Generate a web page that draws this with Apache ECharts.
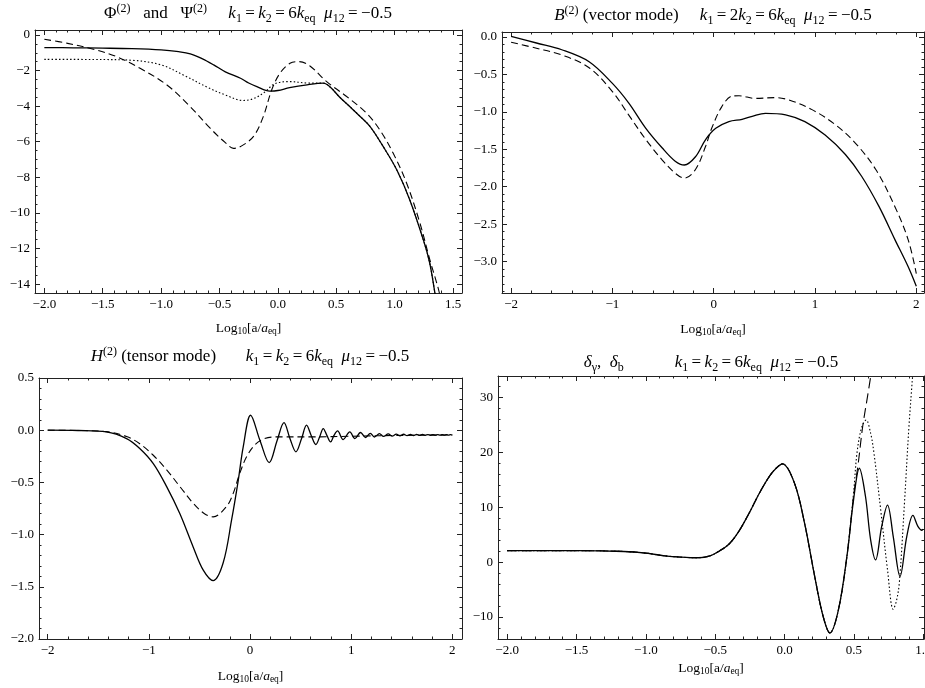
<!DOCTYPE html>
<html>
<head>
<meta charset="utf-8">
<script src="https://cdn.jsdelivr.net/npm/echarts@6/dist/echarts.min.js"></script>
<style>
  html, body { margin: 0; padding: 0; background: #fff; }
  #chart { width: 925px; height: 688px; }
</style>
</head>
<body>
<div id="chart"></div>
<script>
// ---- panel 1: Phi / Psi ----
const phiSolidX = [-2.0, -1.75, -1.5, -1.25, -1.0, -0.85, -0.75, -0.65, -0.55, -0.45, -0.32, -0.25, -0.18, -0.07, 0.0, 0.1, 0.25, 0.39, 0.45, 0.53, 0.62, 0.7, 0.79, 0.9, 1.02, 1.13, 1.25, 1.3, 1.34, 1.36];
const phiSolidY = [-0.71, -0.72, -0.74, -0.77, -0.84, -0.94, -1.06, -1.33, -1.68, -2.07, -2.43, -2.7, -2.9, -3.15, -3.12, -2.96, -2.8, -2.71, -2.94, -3.5, -4.05, -4.55, -5.15, -6.25, -7.6, -9.27, -11.6, -12.8, -14.3, -15.2];
const phiDotX = [-2.0, -1.5, -1.25, -1.0, -0.8, -0.6, -0.45, -0.3, -0.21, -0.11, -0.03, 0.1, 0.25, 0.39, 0.45, 0.53, 0.62, 0.7, 0.79, 0.9, 1.02, 1.13, 1.25, 1.3, 1.34, 1.36];
const phiDotY = [-1.37, -1.38, -1.42, -1.68, -2.28, -2.95, -3.37, -3.68, -3.58, -3.2, -2.75, -2.62, -2.7, -2.71, -2.94, -3.5, -4.05, -4.55, -5.15, -6.25, -7.6, -9.27, -11.6, -12.8, -14.3, -15.2];
const phiDashX = [-2.0, -1.8, -1.58, -1.38, -1.18, -0.95, -0.75, -0.58, -0.45, -0.38, -0.32, -0.21, -0.125, -0.053, 0.018, 0.104, 0.183, 0.275, 0.418, 0.589, 0.76, 0.874, 0.988, 1.103, 1.217, 1.302, 1.373, 1.4];
const phiDashY = [-0.24, -0.47, -0.8, -1.22, -1.87, -2.81, -4.03, -5.24, -6.05, -6.37, -6.27, -5.71, -4.59, -3.09, -2.15, -1.59, -1.5, -1.74, -2.62, -3.46, -4.4, -5.34, -6.65, -8.33, -10.58, -12.64, -14.23, -15.0];

// ---- panel 2: B (vector mode) ----
const vecSolidX = [-2.0, -1.75, -1.5, -1.23, -1.0, -0.84, -0.67, -0.51, -0.38, -0.29, -0.18, -0.08, 0.02, 0.15, 0.28, 0.38, 0.51, 0.71, 0.9, 1.1, 1.3, 1.46, 1.63, 1.79, 1.92, 2.0];
const vecSolidY = [0.01, -0.08, -0.17, -0.33, -0.62, -0.88, -1.22, -1.48, -1.66, -1.71, -1.6, -1.37, -1.22, -1.13, -1.1, -1.06, -1.02, -1.04, -1.13, -1.31, -1.57, -1.86, -2.26, -2.71, -3.07, -3.33];
const vecDashX = [-2.0, -1.75, -1.5, -1.23, -1.0, -0.84, -0.67, -0.51, -0.38, -0.29, -0.18, -0.08, -0.02, 0.08, 0.18, 0.25, 0.41, 0.61, 0.74, 0.97, 1.2, 1.4, 1.6, 1.79, 1.92, 2.0];
const vecDashY = [-0.07, -0.15, -0.24, -0.41, -0.73, -1.04, -1.37, -1.64, -1.82, -1.885, -1.77, -1.46, -1.22, -0.93, -0.79, -0.785, -0.82, -0.81, -0.84, -0.97, -1.17, -1.42, -1.77, -2.27, -2.71, -3.16];

// ---- panel 3: H (tensor mode) ----
const tenSolidX = [-2.0, -1.7, -1.42, -1.22, -1.09, -0.956, -0.824, -0.693, -0.561, -0.462, -0.364, -0.265, -0.182, -0.116, -0.067, 0.006, 0.098, 0.19, 0.269, 0.336, 0.395, 0.454, 0.51, 0.559, 0.605, 0.651, 0.69, 0.724, 0.76, 0.797, 0.83, 0.866, 0.921, 0.987, 1.037, 1.093, 1.142, 1.19, 1.23, 1.28, 1.32, 1.367, 1.405, 1.446, 1.483, 1.519, 1.553, 1.586, 1.617, 1.648, 1.677, 1.705, 1.732, 1.759, 1.784, 1.809, 1.833, 1.856, 1.879, 1.901, 1.922, 1.943, 1.963, 1.983, 2.0];
const tenSolidY = [0.0, -0.003, -0.016, -0.08, -0.175, -0.32, -0.54, -0.8, -1.12, -1.34, -1.44, -1.27, -0.86, -0.48, -0.16, 0.143, -0.096, -0.31, -0.096, 0.072, -0.08, -0.207, -0.08, 0.048, -0.05, -0.137, -0.06, 0.016, -0.05, -0.112, -0.05, -0.007, -0.089, -0.016, -0.08, -0.022, -0.07, -0.03, -0.065, -0.033, -0.06, -0.036, -0.057, -0.038, -0.054, -0.039, -0.052, -0.04, -0.051, -0.041, -0.05, -0.041, -0.049, -0.042, -0.049, -0.042, -0.048, -0.042, -0.048, -0.043, -0.047, -0.043, -0.047, -0.043, -0.046];
const tenDashX = [-2.0, -1.7, -1.42, -1.22, -1.09, -0.956, -0.824, -0.693, -0.561, -0.45, -0.364, -0.231, -0.166, -0.1, -0.034, 0.048, 0.13, 0.229, 0.3, 0.6, 1.0, 1.5, 2.0];
const tenDashY = [0.0, -0.003, -0.014, -0.06, -0.13, -0.24, -0.38, -0.54, -0.7, -0.8, -0.83, -0.73, -0.605, -0.41, -0.255, -0.14, -0.086, -0.065, -0.064, -0.064, -0.058, -0.05, -0.046];

// ---- panel 4: delta_gamma, delta_b ----
const denCommonX = [-2.0, -1.5, -1.16, -1.0, -0.866, -0.744, -0.622, -0.537, -0.476, -0.4, -0.33, -0.256, -0.183, -0.11, -0.061, -0.015, 0.071, 0.144, 0.217, 0.278, 0.327, 0.388, 0.449];
const denCommonY = [2.1, 2.1, 1.94, 1.64, 1.15, 0.9, 0.8, 1.15, 1.94, 3.3, 5.6, 8.9, 12.5, 15.6, 17.1, 17.9, 14.4, 7.1, -2.6, -9.9, -12.9, -8.7, 1.0];
const denSolidTailX = [0.497, 0.539, 0.583, 0.62, 0.656, 0.7, 0.742, 0.783, 0.832, 0.881, 0.925, 0.961, 0.99, 1.0];
const denSolidTailY = [11.3, 17.1, 12.0, 4.1, 0.4, 6.5, 10.4, 4.7, -2.6, 4.7, 8.5, 6.5, 5.8, 6.0];
const denDashTailX = [0.497, 0.53, 0.563, 0.6, 0.625];
const denDashTailY = [12.0, 17.8, 24.7, 30.5, 34.5];
const denDotTailX = [0.497, 0.522, 0.555, 0.588, 0.62, 0.644, 0.693, 0.742, 0.783, 0.805, 0.827, 0.864, 0.895, 0.919, 0.93];
const denDotTailY = [12.5, 19.9, 24.5, 25.9, 23.5, 19.9, 9.5, -1.4, -8.6, -7.2, -3.8, 10.7, 24.1, 32.6, 36.0];

// tick labels
const phiXTicks = [-2.0, -1.5, -1.0, -0.5, 0.0, 0.5, 1.0, 1.5];
const phiYTicks = [-14, -12, -10, -8, -6, -4, -2, 0];
const vecXTicks = [-2, -1, 0, 1, 2];
const vecYTicks = [-3.0, -2.5, -2.0, -1.5, -1.0, -0.5, 0.0];
const tenXTicks = [-2, -1, 0, 1, 2];
const tenYTicks = [-2.0, -1.5, -1.0, -0.5, 0.0, 0.5];
const denXTicks = [-2.0, -1.5, -1.0, -0.5, 0.0, 0.5, 1.0];
const denYTicks = [-10, 0, 10, 20, 30];

const SERIF = '"Liberation Serif", "DejaVu Serif", serif';
const FRAME = '#222';
const TS = '\u2009'; // thin space around "=" like Mathematica

const rich = {
  n: { fontFamily: SERIF, fontSize: 17, color: '#000', lineHeight: 22 },
  i: { fontFamily: SERIF, fontSize: 17, fontStyle: 'italic', color: '#000', lineHeight: 22 },
  sup: { fontFamily: SERIF, fontSize: 12, color: '#000', lineHeight: 12, verticalAlign: 'top' },
  sub: { fontFamily: SERIF, fontSize: 12, color: '#000', lineHeight: 12, verticalAlign: 'bottom' }
};
const nameRich = {
  n: { fontFamily: SERIF, fontSize: 13.5, color: '#000', lineHeight: 16 },
  i: { fontFamily: SERIF, fontSize: 13.5, fontStyle: 'italic', color: '#000', lineHeight: 16 },
  sub: { fontFamily: SERIF, fontSize: 9.5, color: '#000', lineHeight: 9, verticalAlign: 'bottom' }
};
const AXIS_NAME = '{n|Log}{sub|10}{n|[a/}{i|a}{sub|eq}{n|]}';
const EQ = '{n|' + TS + '=' + TS + '}';
const KPART = '{i|k}{sub|1}' + EQ + '{i|k}{sub|2}{n|' + TS + '=' + TS + '6}{i|k}{sub|eq}{n|  }{i|μ}{sub|12}{n|' + TS + '=' + TS + '−0.5}';
const KPART2 = '{i|k}{sub|1}{n|' + TS + '=' + TS + '2}{i|k}{sub|2}{n|' + TS + '=' + TS + '6}{i|k}{sub|eq}{n|  }{i|μ}{sub|12}{n|' + TS + '=' + TS + '−0.5}';

function pts(xs, ys) {
  return xs.map((x, i) => [x, ys[i]]);
}

function minorTicks(lo, hi, step, majors) {
  const out = [];
  const n = Math.round((hi - lo) / step);
  for (let k = 0; k <= n; k++) {
    const v = Math.round((lo + k * step) * 1000) / 1000;
    if (!majors.some(m => Math.abs(m - v) < 1e-6)) out.push(v);
  }
  return out;
}

function fmt(dec) {
  return v => Number(v).toFixed(dec).replace('-', '\u2212');
}

// 4 axes per side pair: main (labels+line), minor ticks, opposite major, opposite minor
function frameAxes(kind, gi, range, majors, minors, dec, extra) {
  const sides = kind === 'x' ? ['bottom', 'top'] : ['left', 'right'];
  const mk = (pos, ticks, len, line, labels) => Object.assign({
    type: 'value',
    gridIndex: gi,
    position: pos,
    min: range[0],
    max: range[1],
    splitLine: { show: false },
    axisLine: { show: line, onZero: false, lineStyle: { color: FRAME, width: 1 } },
    axisTick: { show: true, inside: true, length: len, customValues: ticks, lineStyle: { color: FRAME, width: 1 } },
    axisLabel: labels ? {
      show: true, customValues: majors, formatter: fmt(dec), showMinLabel: true, showMaxLabel: true,
      fontFamily: SERIF, fontSize: 13, color: '#000', margin: 5
    } : { show: false }
  }, labels ? extra : {});
  return [
    mk(sides[0], majors, 5, true, true),
    mk(sides[0], minors, 2.5, false, false),
    mk(sides[1], majors, 5, true, false),
    mk(sides[1], minors, 2.5, false, false)
  ];
}

function xName(gap) {
  return { name: AXIS_NAME, nameLocation: 'middle', nameGap: gap, nameTextStyle: { rich: nameRich } };
}

const grids = [
  { left: 35, top: 30, width: 427, height: 263 },
  { left: 502, top: 32, width: 422, height: 261 },
  { left: 39, top: 378, width: 423, height: 261 },
  { left: 498, top: 376, width: 426, height: 263 }
];

const xAxes = [].concat(
  frameAxes('x', 0, [-2.08, 1.577], phiXTicks, minorTicks(-2, 1.5, 0.1, phiXTicks), 1, xName(27)),
  frameAxes('x', 1, [-2.09, 2.076], vecXTicks, minorTicks(-2, 2, 0.2, vecXTicks), 0, xName(28)),
  frameAxes('x', 2, [-2.086, 2.096], tenXTicks, minorTicks(-2, 2, 0.2, tenXTicks), 0, xName(29)),
  frameAxes('x', 3, [-2.066, 1.005], denXTicks, minorTicks(-2, 1, 0.1, denXTicks), 1, xName(21))
);
const yAxes = [].concat(
  frameAxes('y', 0, [-14.5, 0.28], phiYTicks, minorTicks(-14, 0, 0.5, phiYTicks), 0, {}),
  frameAxes('y', 1, [-3.42, 0.067], vecYTicks, minorTicks(-3.4, 0, 0.1, vecYTicks), 1, {}),
  frameAxes('y', 2, [-2.0, 0.5], tenYTicks, minorTicks(-2, 0.5, 0.1, tenYTicks), 1, {}),
  frameAxes('y', 3, [-14.0, 33.9], denYTicks, minorTicks(-14, 32, 2, denYTicks), 0, {})
);

function line(gi, data, style) {
  return {
    type: 'line',
    xAxisIndex: gi * 4,
    yAxisIndex: gi * 4,
    data: data,
    symbol: 'none',
    showSymbol: false,
    smooth: 0.35,
    clip: true,
    silent: true,
    lineStyle: Object.assign({ color: '#000', width: 1.3 }, style)
  };
}

const DASH = { type: [7, 4], width: 1.1 };
const DOT = { type: [1.5, 2.2], width: 1.1 };

const series = [
  line(0, pts(phiDashX, phiDashY), DASH),
  line(0, pts(phiDotX, phiDotY), DOT),
  line(0, pts(phiSolidX, phiSolidY), {}),
  line(1, pts(vecDashX, vecDashY), DASH),
  line(1, pts(vecSolidX, vecSolidY), {}),
  line(2, pts(tenDashX, tenDashY), DASH),
  line(2, pts(tenSolidX, tenSolidY), {}),
  line(3, pts(denCommonX.concat(denDashTailX), denCommonY.concat(denDashTailY)), { type: [10, 5], width: 1.1 }),
  line(3, pts(denCommonX.concat(denDotTailX), denCommonY.concat(denDotTailY)), DOT),
  line(3, pts(denCommonX.concat(denSolidTailX), denCommonY.concat(denSolidTailY)), {})
];

function titleText(x, y, text) {
  return {
    type: 'text',
    x: x,
    y: y,
    silent: true,
    style: { text: text, rich: rich, align: 'center', verticalAlign: 'middle', textAlign: 'center', textVerticalAlign: 'middle' }
  };
}

const chart = echarts.init(document.getElementById('chart'), null, { renderer: 'canvas' });
chart.setOption({
  animation: false,
  backgroundColor: '#fff',
  grid: grids.map(g => Object.assign({ outerBoundsMode: 'none', containLabel: false }, g)),
  xAxis: xAxes,
  yAxis: yAxes,
  series: series,
  graphic: [
    titleText(248, 14, '{n|Φ}{sup|(2)}{n|   and   Ψ}{sup|(2)}{n|     }' + KPART),
    titleText(713, 16, '{i|B}{sup|(2)}{n| (vector mode)     }' + KPART2),
    titleText(250, 357, '{i|H}{sup|(2)}{n| (tensor mode)       }' + KPART),
    titleText(711, 363, '{i|δ}{sub|γ}{n|,  }{i|δ}{sub|b}{n|            }' + KPART)
  ]
});
</script>
</body>
</html>
